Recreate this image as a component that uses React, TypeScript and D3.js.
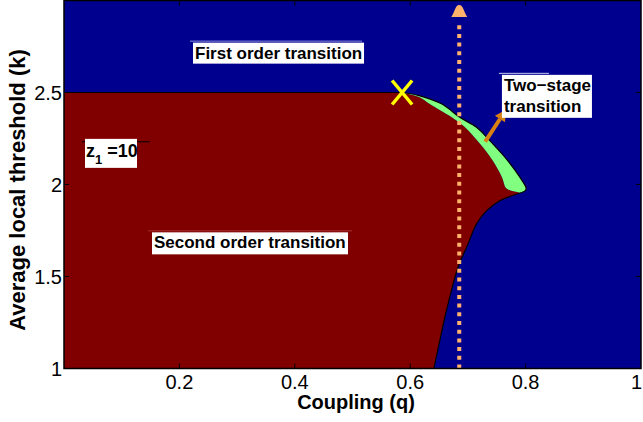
import React from "react";
import * as d3 from "d3";

// axis ticks
const qTicks = [0.2, 0.4, 0.6, 0.8, 1];
const kTicks = [1, 1.5, 2, 2.5];

// first order / second order border (flat part)
const flatQ = [0, 0.586];
const flatK = [2.5, 2.5];

// outer edge of the two-stage (green) region, from the X down to the tip
const outerQ = [0.586, 0.617, 0.655, 0.686, 0.715, 0.738, 0.769, 0.79, 0.801, 0.799, 0.792];
const outerK = [2.5, 2.482, 2.437, 2.365, 2.311, 2.238, 2.13, 2.04, 1.978, 1.965, 1.955];

// inner edge of the green region (red side)
const innerQ = [0.586, 0.617, 0.634, 0.672, 0.695, 0.721, 0.743, 0.759, 0.767, 0.787, 0.792];
const innerK = [2.5, 2.473, 2.437, 2.365, 2.311, 2.221, 2.13, 2.04, 1.978, 1.958, 1.955];

// lower border between second order (red) and first order (blue)
const lowerQ = [0.792, 0.756, 0.733, 0.715, 0.698, 0.683, 0.663, 0.649, 0.641];
const lowerK = [1.955, 1.913, 1.859, 1.787, 1.66, 1.552, 1.317, 1.118, 1.0];

// critical point and the dotted cut
const critQ = 0.586;
const critK = 2.5;
const cutQ = 0.685;
const cutK = [1, 2.9, 2.975];

// arrow pointing at the green sliver
const arrowQ = [0.73, 0.766];
const arrowK = [2.233, 2.406];

const W = 643;
const H = 422;
const BLUE = "#00008F";
const RED = "#800000";
const GREEN = "#80FF80";
const FONT = "'Liberation Sans', Arial, Helvetica, sans-serif";

const zip = (a: number[], b: number[]): [number, number][] => a.map((v, i) => [v, b[i]]);

const App = () => {
    const x = d3.scaleLinear().domain([0, 1]).range([64, 641]);
    const y = d3.scaleLinear().domain([1, 3]).range([368.5, 0.5]);

    const line = d3
        .line<[number, number]>()
        .x((d) => x(d[0]))
        .y((d) => y(d[1]))
        .curve(d3.curveCatmullRom);
    const straight = d3
        .line<[number, number]>()
        .x((d) => x(d[0]))
        .y((d) => y(d[1]));

    const outer = zip(outerQ, outerK);
    const inner = zip(innerQ, innerK);
    const lower = zip(lowerQ, lowerK);

    const redPath =
        `M${x(0)},${y(1)}L${x(0)},${y(2.5)}` +
        (line(inner) || "").replace(/^M/, "L") +
        (line(lower.slice(1)) || "").replace(/^M/, "L") +
        "Z";
    const greenPath = (line(outer.concat(inner.slice(0, -1).reverse())) || "") + "Z";

    const cx = x(cutQ);
    const tipY = y(cutK[2]);
    const baseY = y(cutK[1]);

    const ax0 = x(arrowQ[0]);
    const ay0 = y(arrowK[0]);
    const ax1 = x(arrowQ[1]);
    const ay1 = y(arrowK[1]);
    const ang = Math.atan2(ay1 - ay0, ax1 - ax0);
    const hl = 11;
    const hw = 6;
    const bx = ax1 - hl * Math.cos(ang);
    const by = ay1 - hl * Math.sin(ang);
    const head = [
        [ax1, ay1],
        [bx + hw * Math.sin(ang), by - hw * Math.cos(ang)],
        [bx - hw * Math.sin(ang), by + hw * Math.cos(ang)],
    ];

    const mx = x(critQ);
    const my = y(critK);

    const boxes = [
        { q: 0.2236, k: 2.771, w: 171, h: 21, lines: ["First order transition"], rule: "#8f8fe0", rx: -3, rw: 172 },
        { q: 0.1525, k: 1.74, w: 196, h: 22, lines: ["Second order transition"], rule: "#a43030", rx: -4, rw: 204 },
        { q: 0.759, k: 2.596, w: 90, h: 43, lines: ["Two\u2212stage", "transition"], rule: "#c8c8f0", rx: -3, rw: 50 },
    ];

    const plotLeft = x(0);
    const plotRight = x(1);
    const plotTop = y(3);
    const plotBottom = y(1);

    return (
        <div style={{ position: "absolute", left: 0, top: 0 }}>
            <svg width={W} height={H} style={{ display: "block", background: "#fff" }} fontFamily={FONT}>
                <defs>
                    <clipPath id="plot">
                        <rect x={plotLeft} y={plotTop} width={plotRight - plotLeft} height={plotBottom - plotTop} />
                    </clipPath>
                </defs>
                <g clipPath="url(#plot)">
                    <rect x={plotLeft} y={plotTop} width={plotRight - plotLeft} height={plotBottom - plotTop} fill={BLUE} />
                    <path d={redPath} fill={RED} />
                    <path d={greenPath} fill={GREEN} />
                    <path d={straight(zip(flatQ, flatK)) || ""} fill="none" stroke="#000" strokeWidth={1.2} />
                    <path d={line(outer) || ""} fill="none" stroke="#000" strokeWidth={1.2} />
                    <path d={line(lower) || ""} fill="none" stroke="#000" strokeWidth={1.2} />

                    {/* dotted cut with arrowhead */}
                    <line x1={cx} x2={cx} y1={y(cutK[0])} y2={baseY + 2} stroke="#FFB26B" strokeWidth={4} strokeDasharray="4 4.7" />
                    <path
                        d={`M${cx},${tipY} C${cx + 4},${tipY} ${cx + 4},${tipY + 6} ${cx + 8},${baseY - 2} L${cx - 8},${baseY - 2} C${cx - 4},${tipY + 6} ${cx - 4},${tipY} ${cx},${tipY} Z`}
                        fill="#FFB26B"
                    />

                    {/* annotation arrow */}
                    <line x1={ax0} y1={ay0} x2={bx} y2={by} stroke="#D98012" strokeWidth={4} />
                    <polygon points={head.map((p) => p.join(",")).join(" ")} fill="#D98012" />

                    {/* critical point */}
                    <g stroke="#FFFF00" strokeWidth={3.5}>
                        <line x1={mx - 10} y1={my - 12} x2={mx + 10} y2={my + 12} />
                        <line x1={mx + 10} y1={my - 12} x2={mx - 10} y2={my + 12} />
                    </g>

                    {/* labels */}
                    {boxes.map((b, i) => {
                        const bxp = x(b.q);
                        const byp = y(b.k);
                        return (
                            <g key={i}>
                                <line x1={bxp + b.rx} x2={bxp + b.rx + b.rw} y1={byp - 1.5} y2={byp - 1.5} stroke={b.rule} strokeWidth={1} />
                                <rect x={bxp} y={byp} width={b.w} height={b.h} fill="#fff" />
                                {b.lines.map((t, j) => (
                                    <text key={j} x={bxp + 2} y={byp + 16 + j * 21} fontSize={17} fontWeight="bold" fill="#000">
                                        {t}
                                    </text>
                                ))}
                            </g>
                        );
                    })}

                    {/* z1 = 10 */}
                    <line x1={x(0.031)} x2={x(0.149)} y1={y(2.232)} y2={y(2.232)} stroke="#000" strokeWidth={1} />
                    <rect x={x(0.0364)} y={y(2.248)} width={52} height={29} fill="#fff" />
                    <text x={x(0.0364) + 1} y={y(2.248) + 18} fontSize={18} fontWeight="bold" fill="#000">
                        z
                        <tspan fontSize={13} dy={7}>1</tspan>
                        <tspan dy={-7}> =10</tspan>
                    </text>
                </g>

                {/* ticks */}
                <g stroke="#000" strokeWidth={1}>
                    {qTicks.slice(0, -1).map((t) => (
                        <g key={"q" + t}>
                            <line x1={x(t)} x2={x(t)} y1={plotBottom} y2={plotBottom - 5} />
                            <line x1={x(t)} x2={x(t)} y1={plotTop} y2={plotTop + 5} />
                        </g>
                    ))}
                    {kTicks.slice(1).map((t) => (
                        <g key={"k" + t}>
                            <line x1={plotLeft} x2={plotLeft + 5} y1={y(t)} y2={y(t)} />
                            <line x1={plotRight} x2={plotRight - 5} y1={y(t)} y2={y(t)} />
                        </g>
                    ))}
                </g>
                <rect x={plotLeft} y={plotTop} width={plotRight - plotLeft} height={plotBottom - plotTop} fill="none" stroke="#000" strokeWidth={1.5} />

                {qTicks.map((t, i) => (
                    <text
                        key={"ql" + t}
                        x={i === qTicks.length - 1 ? W - 1 : x(t)}
                        y={389}
                        fontSize={20}
                        textAnchor={i === qTicks.length - 1 ? "end" : "middle"}
                        fill="#000"
                    >
                        {t}
                    </text>
                ))}
                {kTicks.map((t) => (
                    <text key={"kl" + t} x={62} y={y(t) + 7} fontSize={20} textAnchor="end" fill="#000">
                        {t}
                    </text>
                ))}

                <text x={356} y={409} fontSize={20} fontWeight="bold" textAnchor="middle" fill="#000">
                    Coupling (q)
                </text>
                <text
                    transform={`translate(25,190) rotate(-90)`}
                    fontSize={22}
                    fontWeight="bold"
                    textAnchor="middle"
                    fill="#000"
                >
                    Average local threshold (k)
                </text>
            </svg>
        </div>
    );
};

export default App;
